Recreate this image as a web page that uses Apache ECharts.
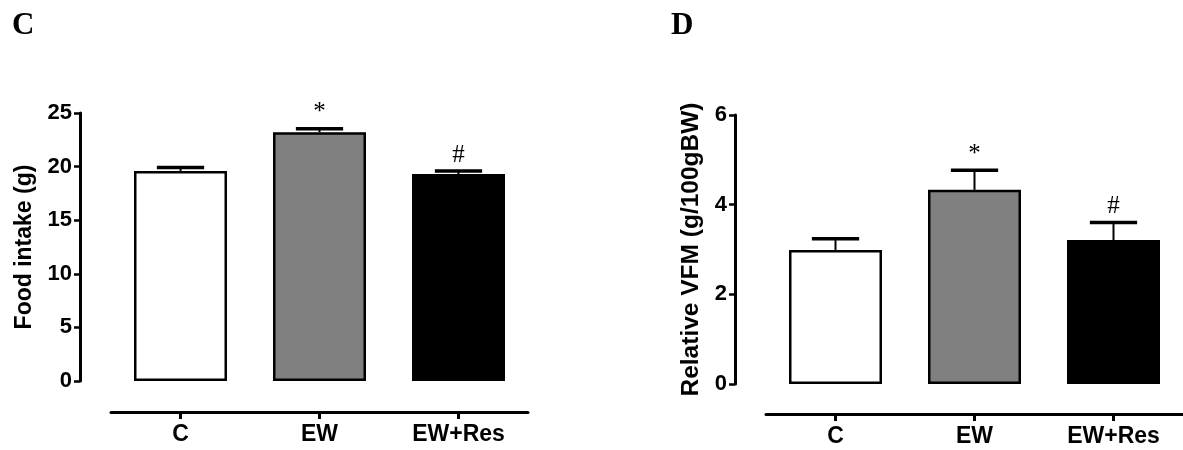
<!DOCTYPE html>
<html>
<head>
<meta charset="utf-8">
<script src="https://cdn.jsdelivr.net/npm/echarts@6/dist/echarts.min.js"></script>
<style>
html,body{margin:0;padding:0;background:#fff;}
#chart{width:1183px;height:450px;}
</style>
</head>
<body>
<div id="chart"></div>
<script>
// ---- data ----
const categories = ['C', 'EW', 'EW+Res'];
const barColors = ['#ffffff', '#808080', '#000000'];

const foodMean = [19.6, 23.2, 19.3];
const foodErr = [0.31, 0.34, 0.28];
const foodSig = ['', '*', '#'];
const foodAxis = { min: 0, max: 25, interval: 5, name: 'Food intake (g)' };

const vfmMean = [2.99, 4.33, 3.21];
const vfmErr = [0.25, 0.44, 0.39];
const vfmSig = ['', '*', '#'];
const vfmAxis = { min: 0, max: 6, interval: 2, name: 'Relative VFM (g/100gBW)' };

const panelLetters = ['C', 'D'];

// ---- chart ----
const SANS = '"Liberation Sans", Arial, sans-serif';
const SERIF = '"Liberation Serif", "Times New Roman", serif';

function errRender(sigs) {
  return function (params, api) {
    const i = api.value(0);
    const m = api.value(1);
    const e = api.value(2);
    const base = api.coord([i, m]);
    const top = api.coord([i, m + e]);
    const half = api.size([1, 0])[0] * 0.17;
    const sig = sigs[params.dataIndex] || '';
    return {
      type: 'group',
      children: [
        { type: 'line', shape: { x1: base[0], y1: base[1], x2: top[0], y2: top[1] },
          style: { stroke: '#000', lineWidth: 2 } },
        { type: 'line', shape: { x1: top[0] - half, y1: top[1], x2: top[0] + half, y2: top[1] },
          style: { stroke: '#000', lineWidth: 3.5 } },
        { type: 'text', x: top[0], y: top[1] - 16,
          style: { text: sig, font: '25px ' + SERIF, fill: '#000',
                   align: 'center', verticalAlign: 'middle',
                   textAlign: 'center', textVerticalAlign: 'middle' } }
      ]
    };
  };
}

function xAxisCfg(gi, offset) {
  return {
    type: 'category', gridIndex: gi, data: categories, offset: offset,
    axisLine: { onZero: false, lineStyle: { color: '#000', width: 3 } },
    axisTick: { show: true, alignWithLabel: true, inside: false, length: 7,
                lineStyle: { color: '#000', width: 3 } },
    axisLabel: { color: '#000', fontFamily: SANS, fontWeight: 'bold', fontSize: 23, margin: 11 }
  };
}
function yAxisCfg(gi, ax, nameGap, nameSize) {
  return {
    type: 'value', gridIndex: gi, min: ax.min, max: ax.max, interval: ax.interval, offset: 31,
    name: ax.name, nameLocation: 'middle', nameGap: nameGap,
    nameTextStyle: { color: '#000', fontFamily: SANS, fontWeight: 'bold', fontSize: nameSize },
    axisLine: { show: true, onZero: false, lineStyle: { color: '#000', width: 3 } },
    axisTick: { show: true, length: 6, lineStyle: { color: '#000', width: 2.5 } },
    axisLabel: { color: '#000', fontFamily: SANS, fontWeight: 'bold', fontSize: 22, margin: 8 },
    splitLine: { show: false }
  };
}
function barSeries(gi, means) {
  return {
    type: 'bar', xAxisIndex: gi, yAxisIndex: gi, barWidth: 93,
    itemStyle: { borderColor: '#000', borderWidth: 2.5 },
    data: means.map((v, i) => ({ value: v, itemStyle: { color: barColors[i] } })),
    z: 2
  };
}
function errSeries(gi, means, errs, sigs) {
  return {
    type: 'custom', xAxisIndex: gi, yAxisIndex: gi,
    renderItem: errRender(sigs),
    data: means.map((v, i) => [i, v, errs[i]]),
    z: 3
  };
}

const chart = echarts.init(document.getElementById('chart'), null, { renderer: 'canvas' });
chart.setOption({
  animation: false,
  backgroundColor: '#fff',
  title: [
    { text: panelLetters[0], left: 12, top: 10, padding: 0,
      textStyle: { fontFamily: SERIF, fontWeight: 'bold', fontSize: 31, color: '#000' } },
    { text: panelLetters[1], left: 671, top: 10, padding: 0,
      textStyle: { fontFamily: SERIF, fontWeight: 'bold', fontSize: 31, color: '#000' } }
  ],
  grid: [
    { left: 111, top: 113, width: 417, height: 268 },
    { left: 766, top: 115, width: 417, height: 269 }
  ],
  xAxis: [xAxisCfg(0, 31), xAxisCfg(1, 30)],
  yAxis: [yAxisCfg(0, foodAxis, 44, 23), yAxisCfg(1, vfmAxis, 31, 24.5)],
  series: [
    barSeries(0, foodMean), errSeries(0, foodMean, foodErr, foodSig),
    barSeries(1, vfmMean), errSeries(1, vfmMean, vfmErr, vfmSig)
  ]
});
</script>
</body>
</html>
